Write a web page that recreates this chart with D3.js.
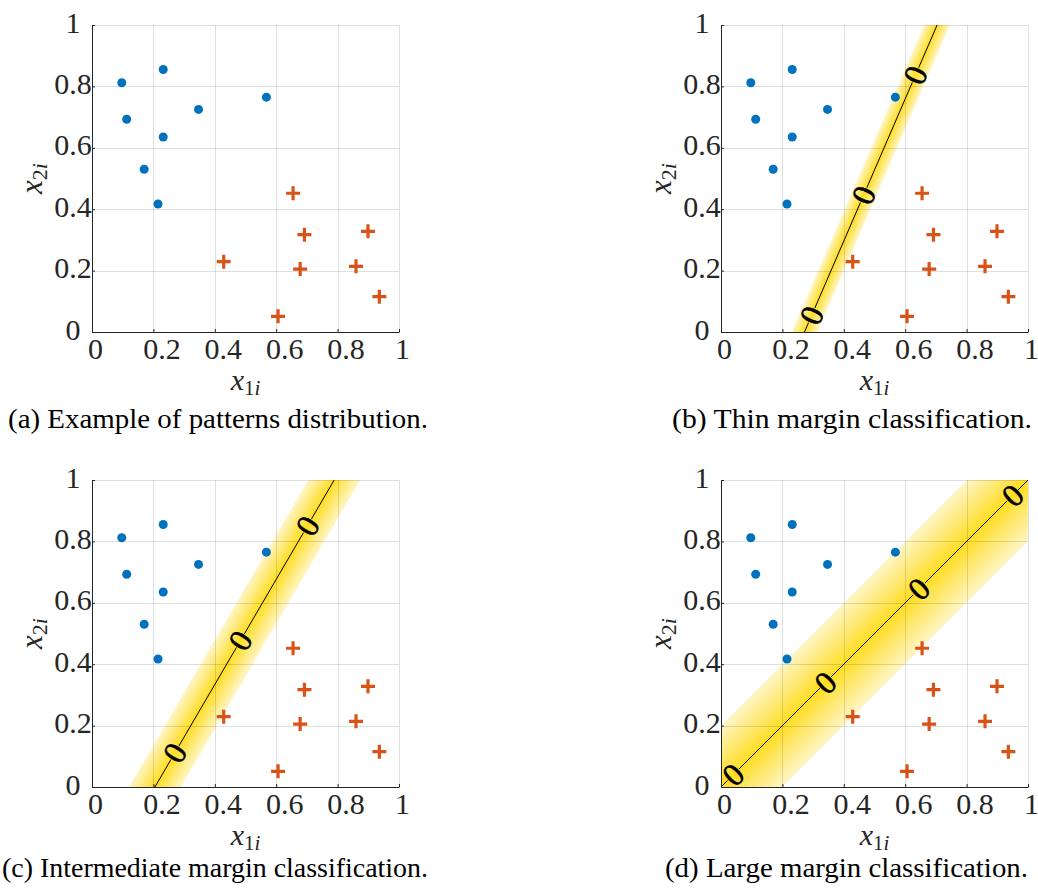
<!DOCTYPE html>
<html>
<head>
<meta charset="utf-8">
<script src="https://cdn.jsdelivr.net/npm/d3@7"></script>
<style>
  body { margin: 0; background: #fff; }
  svg { display: block; }
  svg text { font-family: "Liberation Serif", "DejaVu Serif", serif; }
</style>
</head>
<body>
<script>
// Training patterns (two classes)
const class1X = [0.097, 0.232, 0.113, 0.232, 0.347, 0.170, 0.215, 0.568];
const class1Y = [0.812, 0.855, 0.693, 0.635, 0.725, 0.530, 0.417, 0.765];
const class2X = [0.429, 0.655, 0.692, 0.678, 0.606, 0.899, 0.860, 0.936];
const class2Y = [0.229, 0.452, 0.317, 0.205, 0.051, 0.328, 0.214, 0.115];

const tickValues = [0, 0.2, 0.4, 0.6, 0.8, 1];
const tickLabels = ["0", "0.2", "0.4", "0.6", "0.8", "1"];

const captions = [
  "(a) Example of patterns distribution.",
  "(b) Thin margin classification.",
  "(c) Intermediate margin classification.",
  "(d) Large margin classification."
];

// Decision boundary of each classifier: x1 where it meets x2 = 0 and x2 = 1,
// and half-width of the margin measured along x1
const boundaryX0 = [null, 0.272, 0.205, 0];
const boundaryX1 = [null, 0.704, 0.789, 1];
const marginWidth = [null, 0.042, 0.085, 0.2];
// x2 positions of the contour labels along each boundary
const contourLabelY = [[], [0.054, 0.446, 0.837], [0.111, 0.477, 0.851], [0.04, 0.34, 0.645, 0.95]];
const contourLevel = "0";

const W = 1038, H = 890, S = 307;
const origins = [[92, 25], [721, 25], [92, 480], [721, 480]];
// caption box: left x, baseline y, width
const captionBox = [[8, 428, 420], [672, 428, 360], [2, 877, 426], [665, 877, 363]];

const svg = d3.select("body").append("svg")
  .attr("width", W).attr("height", H)
  .attr("viewBox", `0 0 ${W} ${H}`);
const defs = svg.append("defs");

origins.forEach((o, i) => {
  const g = svg.append("g").attr("transform", `translate(${o[0]},${o[1]})`);
  const x = d3.scaleLinear().domain([0, 1]).range([0, S]);
  const y = d3.scaleLinear().domain([0, 1]).range([S, 0]);

  defs.append("clipPath").attr("id", `clip${i}`)
    .append("rect").attr("x", 0).attr("y", 0).attr("width", S).attr("height", S);

  const plot = g.append("g").attr("clip-path", `url(#clip${i})`);

  // margin band and decision boundary
  if (i > 0) {
    const bx = t => boundaryX0[i] + (boundaryX1[i] - boundaryX0[i]) * t;
    const h = marginWidth[i];
    const P = (a, b) => [x(a), y(b)];
    const band = [P(bx(-0.5) - h, -0.5), P(bx(1.5) - h, 1.5), P(bx(1.5) + h, 1.5), P(bx(-0.5) + h, -0.5)];

    const p0 = P(bx(0), 0), p1 = P(bx(1), 1);
    const dx = p1[0] - p0[0], dy = p1[1] - p0[1];
    const len = Math.hypot(dx, dy);
    const n = [dy / len, -dx / len];
    const hp = x(h) - x(0);
    const w = hp * Math.abs(n[0]);
    const c = P(bx(0.5), 0.5);

    const grad = defs.append("linearGradient").attr("id", `band${i}`)
      .attr("gradientUnits", "userSpaceOnUse")
      .attr("x1", c[0] - w * n[0]).attr("y1", c[1] - w * n[1])
      .attr("x2", c[0] + w * n[0]).attr("y2", c[1] + w * n[1]);
    [[0, "#fff6c9"], [0.3, "#ffe766"], [0.5, "#ffdd22"], [0.7, "#ffe766"], [1, "#fff6c9"]]
      .forEach(s => grad.append("stop").attr("offset", s[0]).attr("stop-color", s[1]));

    plot.append("path")
      .attr("d", d3.line()(band) + "Z")
      .attr("fill", `url(#band${i})`);

    const labels = contourLabelY[i].map(v => P(bx(v), v));
    const mask = defs.append("mask").attr("id", `gap${i}`)
      .attr("maskUnits", "userSpaceOnUse")
      .attr("x", -50).attr("y", -50).attr("width", S + 100).attr("height", S + 100);
    mask.append("rect").attr("x", -50).attr("y", -50).attr("width", S + 100).attr("height", S + 100).attr("fill", "#fff");
    labels.forEach(p => mask.append("circle").attr("cx", p[0]).attr("cy", p[1]).attr("r", 8).attr("fill", "#000"));

    plot.append("path")
      .attr("d", d3.line()([P(bx(-0.2), -0.2), P(bx(1.2), 1.2)]))
      .attr("stroke", "#000").attr("stroke-width", 1).attr("fill", "none")
      .attr("mask", `url(#gap${i})`);

    const angle = Math.atan2(dy, dx) * 180 / Math.PI;
    plot.selectAll("text.lvl").data(labels).join("text")
      .attr("class", "lvl")
      .attr("transform", p => `translate(${p[0]},${p[1]}) rotate(${angle})`)
      .attr("text-anchor", "middle")
      .attr("dy", "0.34em")
      .attr("font-size", 32)
      .attr("fill", "#000")
      .attr("stroke", "#000").attr("stroke-width", 0.6)
      .text(contourLevel);
  }

  // grid
  const grid = g.append("g").attr("stroke", "#262626").attr("stroke-opacity", 0.15).attr("stroke-width", 1);
  grid.selectAll("line.v").data(tickValues).join("line").attr("class", "v")
    .attr("x1", d => Math.round(x(d)) + 0.5).attr("x2", d => Math.round(x(d)) + 0.5)
    .attr("y1", 0).attr("y2", S);
  grid.selectAll("line.h").data(tickValues).join("line").attr("class", "h")
    .attr("y1", d => Math.round(y(d)) + 0.5).attr("y2", d => Math.round(y(d)) + 0.5)
    .attr("x1", 0).attr("x2", S);

  // patterns
  g.append("g").selectAll("circle").data(class1X).join("circle")
    .attr("cx", (d, k) => x(d)).attr("cy", (d, k) => y(class1Y[k]))
    .attr("r", 4.5).attr("fill", "#0072BD");
  g.append("g").selectAll("path").data(class2X).join("path")
    .attr("d", (d, k) => {
      const cx = x(d), cy = y(class2Y[k]), r = 7;
      return `M${cx - r},${cy}H${cx + r}M${cx},${cy - r}V${cy + r}`;
    })
    .attr("stroke", "#D95319").attr("stroke-width", 3.2).attr("fill", "none");

  // axes
  const xAxis = d3.axisBottom(x).tickValues(tickValues)
    .tickFormat((d, k) => tickLabels[k]).tickSize(-3).tickSizeOuter(0);
  const yAxis = d3.axisLeft(y).tickValues(tickValues)
    .tickFormat((d, k) => tickLabels[k]).tickSize(-3).tickSizeOuter(0);

  const gx = g.append("g").attr("transform", `translate(0,${S})`).call(xAxis);
  const gy = g.append("g").call(yAxis);
  [gx, gy].forEach(a => {
    a.attr("font-family", null);
    a.select(".domain").attr("stroke", "#262626");
    a.selectAll(".tick line").attr("stroke", "#262626");
    a.selectAll("text").attr("font-size", 30).attr("fill", "#262626");
  });
  gx.selectAll("text")
    .attr("y", 27).attr("dy", 0)
    .attr("dx", (d, k) => tickLabels[k].length > 1 ? 8 : 3);
  gy.selectAll("text")
    .attr("x", -19).attr("dy", 0).attr("y", 7)
    .attr("text-anchor", "middle");

  // axis titles
  const xt = g.append("text")
    .attr("x", S / 2).attr("y", S + 58)
    .attr("text-anchor", "middle")
    .attr("font-size", 30).attr("fill", "#262626");
  xt.append("tspan").attr("font-style", "italic").text("x");
  xt.append("tspan").attr("font-size", 21).attr("dy", 5).text("1");
  xt.append("tspan").attr("font-size", 21).attr("font-style", "italic").text("i");

  const yt = g.append("text")
    .attr("transform", `translate(-50,${S / 2}) rotate(-90)`)
    .attr("text-anchor", "middle")
    .attr("font-size", 31).attr("fill", "#262626");
  yt.append("tspan").attr("font-style", "italic").text("x");
  yt.append("tspan").attr("font-size", 22).attr("dy", 5).text("2");
  yt.append("tspan").attr("font-size", 22).attr("font-style", "italic").text("i");

  // caption
  svg.append("text")
    .attr("x", captionBox[i][0]).attr("y", captionBox[i][1])
    .attr("textLength", captionBox[i][2])
    .attr("lengthAdjust", "spacingAndGlyphs")
    .attr("font-size", 26.5).attr("fill", "#000")
    .text(captions[i]);
});
</script>
</body>
</html>
